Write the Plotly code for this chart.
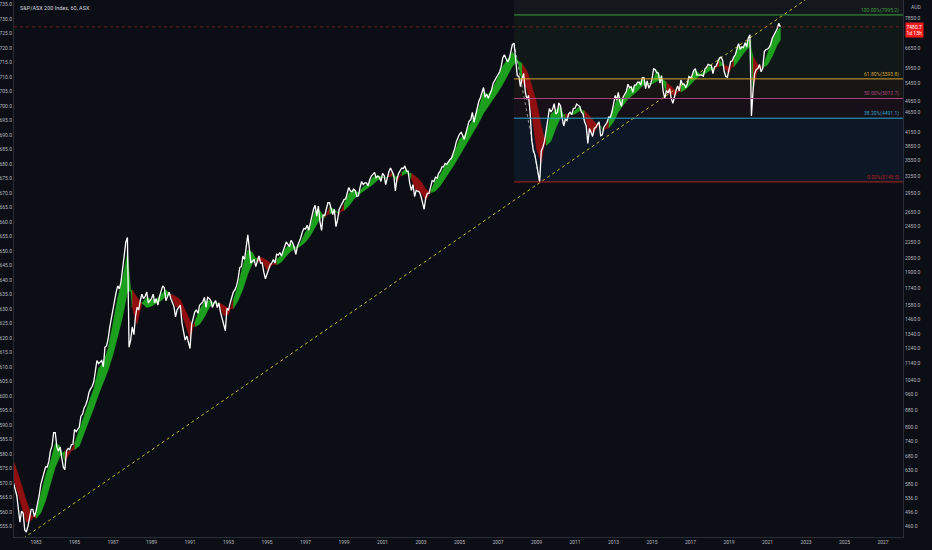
import math
import numpy as np
import pandas as pd
import plotly.graph_objects as go

# ---------------- data ----------------
price_start = "1981-11-01"
price_values = [
    585, 560,
    545, 505, 470, 500, 495, 450, 445, 460, 480, 505, 505, 485,
    500, 520, 545, 580, 600, 620, 640, 640, 660, 700, 720, 775,
    775, 715, 700, 715, 670, 640, 630, 700, 710, 705, 725, 726,
    790, 780, 790, 800, 850, 860, 890, 905, 930, 970, 990, 1003,
    1030, 1100, 1160, 1140, 1150, 1160, 1120, 1250, 1260, 1310, 1400, 1473,
    1560, 1650, 1700, 1760, 1730, 1800, 1950, 2150, 2250, 2306, 1250, 1300,
    1400, 1340, 1480, 1560, 1540, 1620, 1680, 1640, 1660, 1700, 1600, 1620,
    1640, 1680, 1600, 1640, 1580, 1660, 1720, 1760, 1740, 1620, 1660, 1700,
    1640, 1610, 1570, 1480, 1540, 1560, 1580, 1430, 1360, 1300, 1330, 1280,
    1240, 1420, 1480, 1520, 1540, 1510, 1580, 1600, 1610, 1650, 1560, 1651,
    1640, 1620, 1560, 1600, 1620, 1560, 1600, 1520, 1460, 1400, 1370, 1550,
    1540, 1600, 1640, 1700, 1720, 1760, 1830, 1950, 1960, 2080, 2040, 2173,
    2340, 2160, 2000, 2020, 2040, 1960, 2020, 2080, 2000, 2000, 1900, 1830,
    1880, 1940, 1980, 2000, 2040, 2000, 2100, 2090, 2120, 2080, 2140, 2203,
    2250, 2220, 2190, 2270, 2240, 2180, 2100, 2200, 2240, 2300, 2380, 2425,
    2420, 2470, 2400, 2500, 2600, 2700, 2760, 2600, 2750, 2520, 2400, 2616,
    2610, 2700, 2800, 2800, 2700, 2620, 2700, 2450, 2550, 2700, 2750, 2813,
    2850, 2860, 2950, 3050, 2990, 2980, 3020, 3000, 2900, 2910, 3050, 3153,
    3100, 3130, 3130, 3080, 3180, 3250, 3280, 3320, 3220, 3250, 3230, 3155,
    3300, 3260, 3100, 3250, 3330, 3400, 3320, 3270, 2990, 3200, 3300, 3360,
    3400, 3390, 3440, 3340, 3340, 3120, 3000, 3100, 2900, 3000, 2990, 2976,
    2900, 2800, 2700, 2880, 2950, 2950, 3060, 3170, 3150, 3230, 3210, 3299,
    3340, 3420, 3420, 3490, 3470, 3530, 3560, 3590, 3670, 3790, 3940, 4050,
    4110, 4150, 4070, 3990, 4130, 4280, 4420, 4450, 4640, 4390, 4580, 4763,
    4930, 5040, 5170, 5330, 5050, 5130, 5020, 5150, 5260, 5460, 5540, 5644,
    5740, 5820, 5980, 6290, 6400, 6270, 6150, 6250, 6590, 6780, 6828, 6339,
    5700, 5670, 5360, 5600, 5770, 5210, 4990, 5100, 4630, 3980, 3740, 3659,
    3480, 3350, 3145, 3740, 3820, 3950, 4250, 4440, 4740, 4650, 4720, 4870,
    4600, 4640, 4890, 4810, 4500, 4300, 4460, 4430, 4600, 4640, 4580, 4745,
    4750, 4860, 4830, 4800, 4650, 4600, 4400, 4300, 3900, 4240, 4150, 4057,
    4240, 4270, 4340, 4400, 4070, 4090, 4270, 4320, 4390, 4520, 4510, 4649,
    4880, 5100, 4970, 5190, 4930, 4800, 5050, 5140, 5220, 5430, 5320, 5352,
    5190, 5400, 5400, 5490, 5490, 5400, 5630, 5630, 5300, 5530, 5310, 5411,
    5590, 5930, 5890, 5790, 5780, 5460, 5700, 5210, 5020, 5240, 5170, 5296,
    5010, 4880, 5080, 5250, 5380, 5230, 5560, 5430, 5440, 5320, 5440, 5666,
    5620, 5710, 5860, 5920, 5720, 5720, 5720, 5710, 5680, 5910, 5970, 6066,
    6040, 6020, 5760, 5980, 6010, 6190, 6280, 6320, 6210, 5830, 5670, 5646,
    5860, 6170, 6180, 6330, 6400, 6620, 6810, 6600, 6690, 6660, 6850, 6684,
    7020, 7162, 4546, 5240, 5760, 5900, 5930, 6060, 5820, 5930, 6520, 6587,
    6610, 6670, 6790, 7020, 7160, 7310, 7390, 7628, 7480.7,
]
price_dates = pd.date_range(price_start, periods=len(price_values), freq="MS")

# ribbon edges (fast / slow), read roughly at quarter starts
ribbon_dates = ["1981-11-01"] + [f"{y}-{m:02d}-01" for y in range(1982, 2020) for m in (1, 4, 7, 10)] \
    + ["2020-01-01", "2020-02-15", "2020-04-01", "2020-07-01", "2020-10-01",
       "2021-01-01", "2021-04-01", "2021-07-01", "2021-09-01"]
ribbon_fast = [
    600,
    565, 510, 470, 475,
    495, 545, 610, 660,
    730, 720, 660, 690,
    730, 790, 860, 920,
    990, 1110, 1150, 1240,
    1430, 1650, 1830, 2120,
    1560, 1420, 1600, 1650,
    1630, 1630, 1680, 1720,
    1670, 1570, 1550, 1420,
    1310, 1440, 1540, 1610,
    1620, 1600, 1590, 1490,
    1500, 1630, 1770, 1970,
    2150, 2120, 2010, 2020,
    1920, 1970, 2040, 2090,
    2180, 2230, 2180, 2240,
    2380, 2450, 2680, 2680,
    2570, 2730, 2700, 2620,
    2780, 2950, 3010, 2960,
    3060, 3110, 3230, 3260,
    3230, 3220, 3330, 3140,
    3320, 3380, 3200, 3000,
    2960, 2840, 2990, 3170,
    3280, 3450, 3540, 3720,
    4000, 4080, 4300, 4500,
    4760, 5200, 5130, 5340,
    5640, 6000, 6240, 6500,
    6240, 5500, 5300, 4650,
    3780, 3500, 4100, 4600,
    4700, 4800, 4400, 4580,
    4700, 4800, 4550, 4150,
    4150, 4350, 4180, 4420,
    4750, 5100, 4950, 5300,
    5320, 5450, 5580, 5450,
    5450, 5880, 5600, 5180,
    5150, 5100, 5450, 5400,
    5600, 5880, 5740, 5850,
    6020, 5900, 6240, 5950,
    5760, 6270, 6700, 6680,
    6950, 6950, 5300, 5900, 5960,
    6450, 6950, 7300, 7450,
]
ribbon_slow = [
    660,
    630, 580, 530, 490,
    480, 495, 530, 580,
    640, 680, 700, 700,
    705, 720, 770, 830,
    890, 960, 1030, 1100,
    1200, 1330, 1480, 1700,
    1720, 1650, 1600, 1560,
    1570, 1600, 1620, 1660,
    1680, 1660, 1630, 1540,
    1450, 1400, 1420, 1480,
    1560, 1600, 1600, 1580,
    1550, 1550, 1620, 1730,
    1880, 2000, 2060, 2060,
    2030, 1990, 1980, 2010,
    2080, 2140, 2170, 2200,
    2250, 2330, 2450, 2560,
    2600, 2630, 2660, 2660,
    2680, 2750, 2850, 2930,
    2990, 3040, 3100, 3180,
    3220, 3230, 3250, 3240,
    3260, 3300, 3300, 3240,
    3150, 3020, 2960, 2990,
    3080, 3200, 3340, 3480,
    3650, 3820, 3980, 4180,
    4380, 4620, 4820, 5000,
    5200, 5430, 5700, 6000,
    6200, 6100, 5850, 5400,
    4900, 4300, 3850, 3950,
    4250, 4500, 4600, 4580,
    4600, 4680, 4680, 4550,
    4400, 4300, 4220, 4250,
    4400, 4650, 4830, 5000,
    5120, 5230, 5380, 5450,
    5440, 5520, 5600, 5500,
    5350, 5220, 5200, 5280,
    5420, 5580, 5700, 5760,
    5860, 5920, 6000, 6060,
    5980, 5980, 6200, 6450,
    6650, 6700, 6350, 6050, 5950,
    6050, 6350, 6750, 6950,
]

# trend line anchors and fibonacci retracement
trend_dates = ["1981-11-01", "2025-01-01"]
trend_values = [414, 10115]
fib_swing_dates = ["2007-11-01", "2009-03-01"]
fib_swing_values = [6828, 3145]
fib_start = "2007-11-01"
fib_ratios = ["0.00%", "38.20%", "50.00%", "61.80%", "100.00%"]
fib_levels = [3145.5, 4491.1, 5013.7, 5593.8, 7995.2]
fib_colors = ["#b22222", "#2aa7c6", "#a8457a", "#d6a431", "#3f9f3f"]
fib_fills = ["rgba(40,110,190,0.10)", "rgba(200,50,110,0.06)",
             "rgba(220,150,40,0.06)", "rgba(60,150,60,0.08)"]
last_price = 7480.7
last_label = "7480.7<br>1d 13h"

right_ticks = [7850, 6650, 5950, 5450, 4950, 4650, 4150, 3850, 3550, 3250, 2950, 2650,
               2450, 2250, 2050, 1900, 1740, 1580, 1460, 1340, 1240, 1140, 1040, 960,
               880, 800, 740, 680, 630, 580, 536, 496, 460, 426]
left_ticks = list(range(555, 740, 5))

title_text = "S&P/ASX 200 Index, 60, ASX"

# ---------------- figure ----------------
BG = "#0c0e15"
AX = "#2a2e39"
TXT = "#b2b5be"
FONT = "Liberation Sans Narrow, Roboto, sans-serif"

assert len(ribbon_dates) == len(ribbon_fast) == len(ribbon_slow)

fig = go.Figure()

# empty trace so the left scale is drawn
fig.add_trace(go.Scatter(x=[], y=[], yaxis="y2", hoverinfo="skip"))

# ribbon: runs of same direction
rd = pd.to_datetime(ribbon_dates)
up = [f >= s for f, s in zip(ribbon_fast, ribbon_slow)]
runs = []
start = 0
for i in range(1, len(up)):
    if up[i] != up[start]:
        runs.append((start, i))
        start = i
runs.append((start, len(up) - 1))
for a, b in runs:
    xs = list(rd[a:b + 1]) + list(rd[a:b + 1])[::-1]
    ys = list(ribbon_fast[a:b + 1]) + list(ribbon_slow[a:b + 1])[::-1]
    col = "rgba(30,175,30,0.9)" if up[a] else "rgba(160,16,16,0.9)"
    fig.add_trace(go.Scatter(x=xs, y=ys, mode="lines", fill="toself", fillcolor=col,
                             line=dict(width=0.5, color=col), hoverinfo="skip"))

# trend line
fig.add_trace(go.Scatter(x=trend_dates, y=trend_values, mode="lines",
                         line=dict(color="rgba(215,200,40,0.9)", width=1, dash="dot"),
                         hoverinfo="skip"))
# fib swing line
fig.add_trace(go.Scatter(x=fib_swing_dates, y=fib_swing_values, mode="lines",
                         line=dict(color="rgba(200,200,200,0.7)", width=1, dash="dot"),
                         hoverinfo="skip"))
# price
fig.add_trace(go.Scatter(x=price_dates, y=price_values, mode="lines",
                         line=dict(color="#ffffff", width=1.3), hoverinfo="skip"))

shapes = []
far_right = "2029-01-01"
for i in range(len(fib_levels) - 1):
    shapes.append(dict(type="rect", xref="x", yref="y", x0=fib_start, x1=far_right,
                       y0=fib_levels[i], y1=fib_levels[i + 1], fillcolor=fib_fills[i],
                       line=dict(width=0), layer="below"))
shapes.append(dict(type="rect", xref="x", yref="y", x0=fib_start, x1=far_right,
                   y0=fib_levels[-1], y1=20000, fillcolor="rgba(130,150,130,0.07)",
                   line=dict(width=0), layer="below"))
for lv, c in zip(fib_levels, fib_colors):
    shapes.append(dict(type="line", xref="x", yref="y", x0=fib_start, x1=far_right,
                       y0=lv, y1=lv, line=dict(color=c, width=1)))
shapes.append(dict(type="line", xref="paper", yref="y", x0=0, x1=1, y0=last_price, y1=last_price,
                   line=dict(color="rgba(190,40,40,0.55)", width=1, dash="dot")))

annotations = []
for r, lv, c in zip(fib_ratios, fib_levels, fib_colors):
    annotations.append(dict(xref="paper", yref="y", x=0.9966, y=math.log10(lv),
                            xanchor="right", yanchor="bottom", text=f"{r}({lv:.1f})",
                            showarrow=False, font=dict(size=5, color=c, family=FONT),
                            borderpad=0))
annotations.append(dict(xref="paper", yref="y", x=1.0, y=math.log10(last_price), xanchor="left",
                        yanchor="top", text=last_label, showarrow=False, bgcolor="#f21b1b",
                        font=dict(size=5, color="#ffffff", family=FONT), borderpad=0.5, xshift=2,
                        yshift=5, align="left"))
annotations.append(dict(xref="paper", yref="paper", x=1.0, y=1.0, xanchor="left", yanchor="top",
                        text="AUD", showarrow=False, xshift=6, yshift=-2,
                        font=dict(size=5, color=TXT, family=FONT)))
annotations.append(dict(xref="paper", yref="paper", x=0.004, y=1.0, xanchor="left", yanchor="top",
                        text=title_text, showarrow=False, yshift=-3,
                        font=dict(size=5.5, color="#d1d4dc", family=FONT)))

fig.update_layout(
    width=932, height=550,
    margin=dict(l=14, r=29, t=0, b=13),
    paper_bgcolor=BG, plot_bgcolor=BG,
    showlegend=False,
    shapes=shapes, annotations=annotations,
    xaxis=dict(type="date", range=["1981-11-09", "2028-01-15"], tick0="1983-01-01", dtick="M24",
               tickformat="%Y", showgrid=False, zeroline=False, showline=True, linecolor=AX,
               linewidth=1, ticks="", tickfont=dict(size=5, color=TXT, family=FONT)),
    yaxis=dict(type="log", side="right", range=[2.6363, 3.9391], tickvals=right_ticks,
               ticktext=[f"{v:.1f}" for v in right_ticks], showgrid=False, zeroline=False,
               showline=True, linecolor=AX, linewidth=1, ticks="",
               tickfont=dict(size=5, color=TXT, family=FONT)),
    yaxis2=dict(overlaying="y", side="left", range=[551.38, 736.55], tickvals=left_ticks,
                ticktext=[f"{v:.1f}" for v in left_ticks], showgrid=False, zeroline=False,
                showline=True, linecolor=AX, linewidth=1, ticks="",
                tickfont=dict(size=5, color=TXT, family=FONT)),
)

fig.write_html("out.html", config={"displayModeBar": False},
               post_script="document.body.style.margin='0';document.body.style.background='#0c0e15';")
